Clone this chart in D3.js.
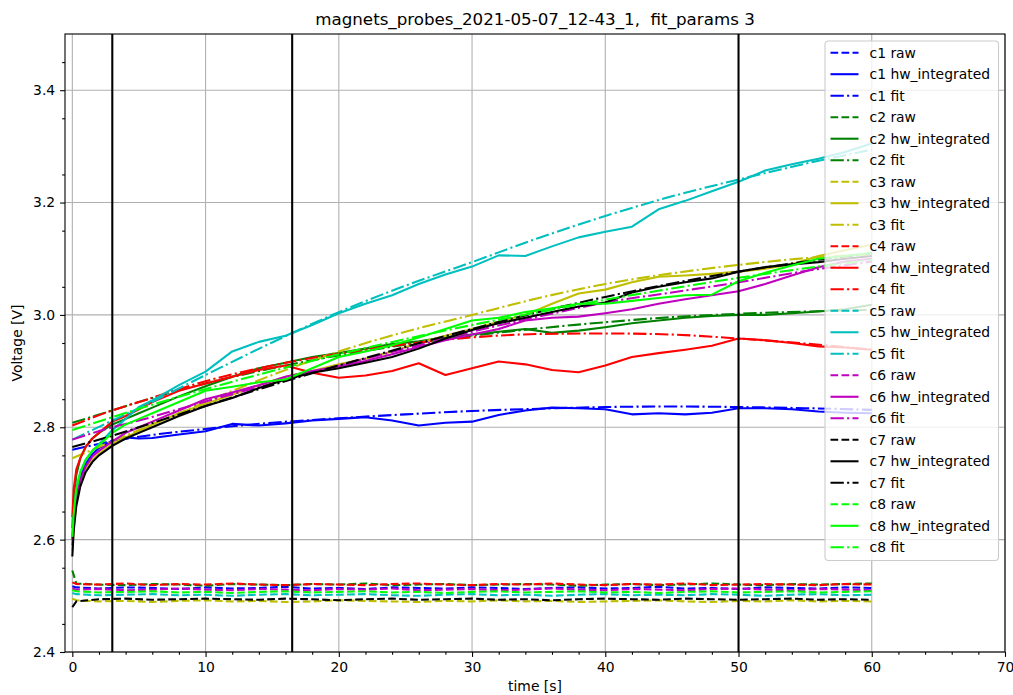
<!DOCTYPE html>
<html>
<head>
<meta charset="utf-8">
<script src="https://cdn.jsdelivr.net/npm/d3@7"></script>
<style>
  html, body { margin: 0; padding: 0; background: #fff; }
  svg { display: block; font-family: "DejaVu Sans", sans-serif; }
</style>
</head>
<body>
<svg id="chart" width="1013" height="695"></svg>
<script>
// Sample times (s)
const rawTime = [0, 0.3, 2, 4, 6, 8, 10, 12, 14, 16, 18, 20, 22, 24, 26, 28, 30,
  32, 34, 36, 38, 40, 42, 44, 46, 48, 50, 52, 54, 56, 58, 60];
const hwTime = [0, 0.1, 0.3, 0.6, 1, 1.5, 2, 3, 4, 5, 6, 8, 10, 12, 14, 16, 18, 20,
  22, 24, 26, 28, 30, 32, 34, 36, 38, 40, 42, 44, 46, 48, 50, 52, 54, 56, 58, 60];
const fitTime = [0, 3, 5, 10, 15, 20, 25, 30, 35, 40, 45, 50, 55, 60];

// Raw probe voltages (V)
const c1Raw = [2.517, 2.515, 2.513, 2.515, 2.514, 2.512, 2.515, 2.513, 2.514, 2.516, 2.513, 2.514, 2.512, 2.515, 2.514, 2.513, 2.515, 2.514, 2.512, 2.514, 2.515, 2.513, 2.514, 2.516, 2.513, 2.514, 2.512, 2.515, 2.514, 2.513, 2.515, 2.514];
const c2Raw = [2.545, 2.522, 2.520, 2.519, 2.521, 2.520, 2.518, 2.521, 2.520, 2.519, 2.521, 2.520, 2.522, 2.519, 2.520, 2.521, 2.519, 2.520, 2.521, 2.520, 2.518, 2.520, 2.521, 2.519, 2.520, 2.522, 2.520, 2.519, 2.521, 2.520, 2.521, 2.522];
const c3Raw = [2.495, 2.492, 2.490, 2.491, 2.489, 2.491, 2.492, 2.490, 2.491, 2.489, 2.490, 2.492, 2.491, 2.490, 2.489, 2.491, 2.490, 2.492, 2.490, 2.491, 2.489, 2.490, 2.491, 2.492, 2.490, 2.489, 2.491, 2.490, 2.492, 2.490, 2.491, 2.490];
const c4Raw = [2.524, 2.521, 2.520, 2.522, 2.519, 2.521, 2.520, 2.522, 2.520, 2.519, 2.521, 2.520, 2.519, 2.521, 2.522, 2.520, 2.519, 2.521, 2.520, 2.522, 2.520, 2.519, 2.521, 2.520, 2.522, 2.519, 2.520, 2.521, 2.520, 2.519, 2.521, 2.520];
const c5Raw = [2.505, 2.503, 2.501, 2.502, 2.503, 2.501, 2.502, 2.500, 2.502, 2.503, 2.501, 2.502, 2.503, 2.501, 2.500, 2.502, 2.503, 2.501, 2.502, 2.500, 2.502, 2.503, 2.501, 2.502, 2.501, 2.503, 2.502, 2.500, 2.502, 2.503, 2.501, 2.502];
const c6Raw = [2.513, 2.511, 2.512, 2.510, 2.511, 2.513, 2.511, 2.510, 2.512, 2.511, 2.510, 2.512, 2.511, 2.513, 2.510, 2.511, 2.512, 2.510, 2.511, 2.513, 2.511, 2.510, 2.512, 2.511, 2.510, 2.512, 2.513, 2.511, 2.510, 2.512, 2.511, 2.510];
const c7Raw = [2.480, 2.490, 2.494, 2.495, 2.493, 2.494, 2.495, 2.494, 2.493, 2.495, 2.494, 2.492, 2.494, 2.495, 2.493, 2.494, 2.495, 2.493, 2.494, 2.492, 2.494, 2.495, 2.494, 2.493, 2.495, 2.494, 2.493, 2.494, 2.495, 2.493, 2.494, 2.493];
const c8Raw = [2.510, 2.508, 2.506, 2.507, 2.508, 2.506, 2.507, 2.505, 2.507, 2.508, 2.506, 2.507, 2.508, 2.506, 2.507, 2.505, 2.507, 2.508, 2.506, 2.507, 2.508, 2.506, 2.507, 2.505, 2.507, 2.508, 2.506, 2.507, 2.508, 2.506, 2.507, 2.508];

// Hardware-integrated signals (V)
const c1Hw = [2.600, 2.635, 2.680, 2.712, 2.735, 2.752, 2.763, 2.776, 2.782, 2.780, 2.781, 2.787, 2.793, 2.806, 2.803, 2.807, 2.812, 2.815, 2.818, 2.812, 2.803, 2.808, 2.810, 2.822, 2.830, 2.835, 2.834, 2.832, 2.823, 2.825, 2.823, 2.826, 2.834, 2.834, 2.832, 2.828, 2.826, 2.825];
const c2Hw = [2.620, 2.670, 2.715, 2.745, 2.765, 2.780, 2.790, 2.805, 2.815, 2.825, 2.835, 2.855, 2.873, 2.890, 2.905, 2.915, 2.925, 2.932, 2.940, 2.948, 2.953, 2.960, 2.965, 2.970, 2.975, 2.968, 2.972, 2.978, 2.985, 2.990, 2.995, 2.998, 3.000, 3.000, 3.003, 3.006, 3.010, 3.018];
const c3Hw = [2.580, 2.620, 2.665, 2.700, 2.725, 2.742, 2.753, 2.770, 2.782, 2.793, 2.805, 2.825, 2.842, 2.858, 2.875, 2.890, 2.900, 2.912, 2.922, 2.935, 2.950, 2.963, 2.975, 2.988, 3.000, 3.020, 3.038, 3.045, 3.058, 3.068, 3.070, 3.073, 3.077, 3.082, 3.090, 3.105, 3.115, 3.125];
const c4Hw = [2.640, 2.690, 2.725, 2.745, 2.765, 2.780, 2.790, 2.810, 2.820, 2.832, 2.845, 2.865, 2.878, 2.890, 2.902, 2.910, 2.897, 2.888, 2.892, 2.900, 2.914, 2.893, 2.905, 2.917, 2.912, 2.902, 2.898, 2.910, 2.925, 2.932, 2.938, 2.945, 2.958, 2.955, 2.950, 2.944, 2.942, 2.938];
const c5Hw = [2.600, 2.640, 2.690, 2.720, 2.742, 2.758, 2.770, 2.795, 2.815, 2.836, 2.848, 2.875, 2.899, 2.935, 2.952, 2.963, 2.982, 3.003, 3.020, 3.035, 3.055, 3.072, 3.086, 3.106, 3.105, 3.122, 3.138, 3.148, 3.157, 3.188, 3.203, 3.220, 3.237, 3.257, 3.268, 3.278, 3.290, 3.305];
const c6Hw = [2.590, 2.630, 2.672, 2.705, 2.730, 2.748, 2.758, 2.775, 2.790, 2.800, 2.810, 2.830, 2.850, 2.862, 2.875, 2.890, 2.900, 2.908, 2.918, 2.930, 2.943, 2.955, 2.965, 2.975, 2.990, 2.995, 2.997, 3.003, 3.010, 3.020, 3.028, 3.035, 3.042, 3.055, 3.070, 3.085, 3.095, 3.100];
const c7Hw = [2.570, 2.615, 2.660, 2.695, 2.720, 2.738, 2.750, 2.767, 2.780, 2.790, 2.800, 2.820, 2.838, 2.852, 2.870, 2.885, 2.897, 2.905, 2.915, 2.925, 2.940, 2.958, 2.973, 2.985, 2.995, 3.005, 3.015, 3.022, 3.040, 3.050, 3.058, 3.065, 3.077, 3.085, 3.090, 3.094, 3.100, 3.105];
const c8Hw = [2.605, 2.645, 2.690, 2.720, 2.742, 2.758, 2.768, 2.790, 2.805, 2.815, 2.825, 2.845, 2.865, 2.872, 2.880, 2.885, 2.905, 2.925, 2.935, 2.946, 2.960, 2.975, 2.990, 2.995, 3.005, 3.012, 3.020, 3.020, 3.025, 3.030, 3.035, 3.036, 3.060, 3.075, 3.088, 3.100, 3.105, 3.110];

// Fitted curves (V)
const c1Fit = [2.760, 2.775, 2.783, 2.797, 2.808, 2.816, 2.823, 2.829, 2.833, 2.836, 2.837, 2.836, 2.834, 2.831];
const c2Fit = [2.808, 2.830, 2.845, 2.878, 2.905, 2.928, 2.947, 2.963, 2.976, 2.987, 2.996, 3.002, 3.006, 3.009];
const c3Fit = [2.745, 2.775, 2.795, 2.845, 2.893, 2.935, 2.970, 3.000, 3.030, 3.055, 3.074, 3.089, 3.101, 3.108];
const c4Fit = [2.803, 2.830, 2.845, 2.882, 2.910, 2.931, 2.948, 2.960, 2.966, 2.967, 2.965, 2.958, 2.949, 2.938];
const c5Fit = [2.778, 2.812, 2.834, 2.893, 2.951, 3.005, 3.052, 3.094, 3.137, 3.176, 3.211, 3.241, 3.269, 3.294];
const c6Fit = [2.778, 2.800, 2.812, 2.846, 2.878, 2.910, 2.940, 2.970, 2.997, 3.022, 3.040, 3.058, 3.078, 3.095];
const c7Fit = [2.765, 2.785, 2.800, 2.838, 2.875, 2.910, 2.943, 2.975, 3.005, 3.032, 3.056, 3.077, 3.095, 3.110];
const c8Fit = [2.795, 2.818, 2.833, 2.868, 2.900, 2.930, 2.957, 2.982, 3.005, 3.027, 3.047, 3.066, 3.083, 3.098];

const channels = ["c1", "c2", "c3", "c4", "c5", "c6", "c7", "c8"];
const channelColors = ["#0000ff", "#008000", "#bfbf00", "#ff0000", "#00bfbf", "#bf00bf", "#000000", "#00ff00"];
const rawSeries = [c1Raw, c2Raw, c3Raw, c4Raw, c5Raw, c6Raw, c7Raw, c8Raw];
const hwSeries = [c1Hw, c2Hw, c3Hw, c4Hw, c5Hw, c6Hw, c7Hw, c8Hw];
const fitSeries = [c1Fit, c2Fit, c3Fit, c4Fit, c5Fit, c6Fit, c7Fit, c8Fit];

// Marker times (s)
const markerTimes = [3, 16.5, 50];

const xTicks = [0, 10, 20, 30, 40, 50, 60, 70];
const yTicks = [2.4, 2.6, 2.8, 3.0, 3.2, 3.4];

const titleText = "magnets_probes_2021-05-07_12-43_1,  fit_params 3";

// ---- layout ----
const L = 65, R = 1005, T = 34, B = 652;
const svg = d3.select("#chart");

const x = d3.scaleLinear().domain([-0.55, 70]).range([L, R]);
const y = d3.scaleLinear().domain([2.4, 3.5]).range([B, T]);

const LW = 2.08;
const dashStyles = { raw: "7.7,3.3", hw: null, fit: "13.3,3.3,2.1,3.3" };

// grid
const grid = svg.append("g");
grid.selectAll("line.gx").data(xTicks).join("line")
  .attr("x1", d => x(d)).attr("x2", d => x(d)).attr("y1", T).attr("y2", B)
  .attr("stroke", "#b0b0b0").attr("stroke-width", 1.1);
grid.selectAll("line.gy").data(yTicks).join("line")
  .attr("y1", d => y(d)).attr("y2", d => y(d)).attr("x1", L).attr("x2", R)
  .attr("stroke", "#b0b0b0").attr("stroke-width", 1.1);

// clip
svg.append("defs").append("clipPath").attr("id", "plotClip")
  .append("rect").attr("x", L).attr("y", T).attr("width", R - L).attr("height", B - T);

const plot = svg.append("g").attr("clip-path", "url(#plotClip)");

const linear = d3.line().x(d => x(d[0])).y(d => y(d[1]));
const smooth = d3.line().x(d => x(d[0])).y(d => y(d[1])).curve(d3.curveMonotoneX);

channels.forEach((c, i) => {
  const col = channelColors[i];
  plot.append("path")
    .attr("d", linear(rawTime.map((t, k) => [t, rawSeries[i][k]])))
    .attr("fill", "none").attr("stroke", col).attr("stroke-width", LW)
    .attr("stroke-dasharray", dashStyles.raw);
  plot.append("path")
    .attr("d", linear(hwTime.map((t, k) => [t, hwSeries[i][k]])))
    .attr("fill", "none").attr("stroke", col).attr("stroke-width", LW)
    .attr("stroke-linejoin", "round");
  plot.append("path")
    .attr("d", smooth(fitTime.map((t, k) => [t, fitSeries[i][k]])))
    .attr("fill", "none").attr("stroke", col).attr("stroke-width", LW)
    .attr("stroke-dasharray", dashStyles.fit);
});

// vertical markers
plot.selectAll("line.marker").data(markerTimes).join("line")
  .attr("x1", d => x(d)).attr("x2", d => x(d)).attr("y1", T).attr("y2", B)
  .attr("stroke", "#000").attr("stroke-width", LW);

// axes
const fontSize = 13.9;
const xAxis = svg.append("g").attr("transform", `translate(0,${B})`)
  .call(d3.axisBottom(x).tickValues(xTicks).tickFormat(d3.format("d")).tickSize(4.9).tickPadding(4.9));
const xMinor = svg.append("g").attr("transform", `translate(0,${B})`)
  .call(d3.axisBottom(x).tickValues(d3.range(0, 71, 2).filter(v => v % 10 !== 0)).tickFormat("").tickSize(2.8));
const yAxis = svg.append("g").attr("transform", `translate(${L},0)`)
  .call(d3.axisLeft(y).tickValues(yTicks).tickFormat(d3.format(".1f")).tickSize(4.9).tickPadding(4.9));
const yMinor = svg.append("g").attr("transform", `translate(${L},0)`)
  .call(d3.axisLeft(y).tickValues(d3.range(2.45, 3.5, 0.1)).tickFormat("").tickSize(2.8));

[xAxis, xMinor, yAxis, yMinor].forEach(g => {
  g.select(".domain").remove();
  g.selectAll(".tick line").attr("stroke", "#000").attr("stroke-width", 1.1);
  g.selectAll(".tick text").attr("font-size", fontSize).attr("fill", "#000")
    .attr("font-family", "DejaVu Sans, sans-serif");
});

// frame
svg.append("rect").attr("x", L).attr("y", T).attr("width", R - L).attr("height", B - T)
  .attr("fill", "none").attr("stroke", "#000").attr("stroke-width", 1.1);

// labels
svg.append("text").attr("x", (L + R) / 2).attr("y", 25).attr("text-anchor", "middle")
  .attr("font-size", 16.7).attr("xml:space", "preserve").style("white-space", "pre")
  .text(titleText);
svg.append("text").attr("x", (L + R) / 2).attr("y", 691).attr("text-anchor", "middle")
  .attr("font-size", fontSize).text("time [s]");
svg.append("text").attr("transform", `translate(22,${(T + B) / 2}) rotate(-90)`)
  .attr("text-anchor", "middle").attr("font-size", fontSize).text("Voltage [V]");

// legend
const legendEntries = [];
channels.forEach((c, i) => {
  legendEntries.push({ label: c + " raw", color: channelColors[i], dash: dashStyles.raw });
  legendEntries.push({ label: c + " hw_integrated", color: channelColors[i], dash: null });
  legendEntries.push({ label: c + " fit", color: channelColors[i], dash: dashStyles.fit });
});
const lg = svg.append("g");
lg.append("rect").attr("x", 825).attr("y", 41).attr("width", 173.5).attr("height", 519.5)
  .attr("rx", 3.5).attr("fill", "#fff").attr("fill-opacity", 0.8)
  .attr("stroke", "#cccccc").attr("stroke-width", 1.1);
const rowY = d3.scaleLinear().domain([0, legendEntries.length - 1]).range([52.7, 547.3]);
const rows = lg.selectAll("g.row").data(legendEntries).join("g")
  .attr("transform", (d, i) => `translate(0,${rowY(i)})`);
rows.append("line").attr("x1", 830.5).attr("x2", 858.5).attr("y1", 0).attr("y2", 0)
  .attr("stroke", d => d.color).attr("stroke-width", LW)
  .attr("stroke-dasharray", d => d.dash);
rows.append("text").attr("x", 869.5).attr("y", 0).attr("dy", "0.35em")
  .attr("font-size", fontSize).attr("fill", "#000").text(d => d.label);
</script>
</body>
</html>
